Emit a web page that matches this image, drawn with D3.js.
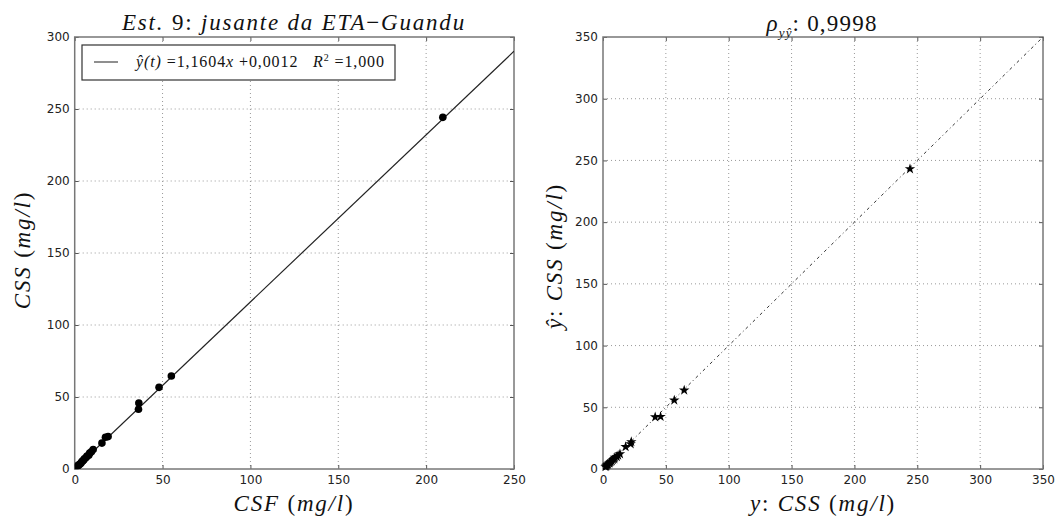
<!DOCTYPE html>
<html><head><meta charset="utf-8">
<script src="https://cdn.jsdelivr.net/npm/d3@7"></script>
<style>body{margin:0;background:#fff}svg{display:block}text{white-space:pre}</style>
</head><body>
<svg id="c" width="1056" height="520"></svg>
<script>
// Data
const csf  = [209.5, 55, 48, 36.5, 36.3, 19, 17.5, 15.5, 10.5, 9.5, 8.5, 8, 7, 6.5, 5.5, 5, 4.5, 4, 3.5, 3, 2.5, 2, 1.5];
const css  = [244.2, 64.6, 56.7, 45.8, 41.5, 22.5, 22, 18, 13.5, 12, 11, 9.5, 9, 8, 7, 6, 5.5, 5, 4, 3.5, 3, 2.5, 2];
const yhat = [243.1, 63.8, 55.7, 42.4, 42.1, 22.0, 20.3, 18.0, 12.2, 11.0, 9.9, 9.3, 8.1, 7.5, 6.4, 5.8, 5.2, 4.6, 4.1, 3.5, 2.9, 2.3, 1.7];
const fitLine = [[0, 0.0012], [250, 290.1012]];
const diagLine = [[0, 0], [350, 350]];
const leftXTicks = [0, 50, 100, 150, 200, 250];
const leftYTicks = [0, 50, 100, 150, 200, 250, 300];
const rightTicks = [0, 50, 100, 150, 200, 250, 300, 350];

const svg = d3.select("#c");
const serif = "'Liberation Serif', 'DejaVu Serif', serif";

function panel(x0, x1, y0, y1, xDom, yDom, xt, yt) {
  const x = d3.scaleLinear().domain(xDom).range([x0, x1]);
  const y = d3.scaleLinear().domain(yDom).range([y1, y0]);
  const g = svg.append("g");
  g.selectAll(".gx").data(xt.slice(1, -1)).join("line")
    .attr("x1", d => x(d)).attr("x2", d => x(d)).attr("y1", y0).attr("y2", y1)
    .attr("stroke", "#999").attr("stroke-dasharray", "1,3").attr("stroke-width", 1);
  g.selectAll(".gy").data(yt.slice(1, -1)).join("line")
    .attr("y1", d => y(d)).attr("y2", d => y(d)).attr("x1", x0).attr("x2", x1)
    .attr("stroke", "#999").attr("stroke-dasharray", "1,3").attr("stroke-width", 1);
  const ax = g.append("g").attr("transform", `translate(0,${y1})`)
    .call(d3.axisBottom(x).tickValues(xt).tickSize(-4).tickPadding(6).tickFormat(d3.format("d")));
  const ay = g.append("g").attr("transform", `translate(${x0},0)`)
    .call(d3.axisLeft(y).tickValues(yt).tickSize(-4).tickPadding(5).tickFormat(d3.format("d")));
  const axT = g.append("g").attr("transform", `translate(0,${y0})`)
    .call(d3.axisTop(x).tickValues(xt).tickSize(-4).tickFormat(""));
  const ayR = g.append("g").attr("transform", `translate(${x1},0)`)
    .call(d3.axisRight(y).tickValues(yt).tickSize(-4).tickFormat(""));
  [ax, ay, axT, ayR].forEach(a => {
    a.select(".domain").remove();
    a.selectAll("line").attr("stroke", "#555");
    a.selectAll("text").attr("fill", "#222").style("font-family", "'DejaVu Sans', sans-serif").style("font-size", "12px");
  });
  g.append("rect").attr("x", x0).attr("y", y0).attr("width", x1 - x0).attr("height", y1 - y0)
    .attr("fill", "none").attr("stroke", "#777").attr("stroke-width", 1.5);
  return {x, y, g};
}

function label(x, y, parts, size, ls, rot) {
  const t = svg.append("text")
    .attr("transform", rot ? `translate(${x},${y}) rotate(-90)` : `translate(${x},${y})`)
    .attr("text-anchor", "middle").style("font-family", serif).style("font-size", size + "px")
    .style("letter-spacing", ls + "px").attr("fill", "#111");
  parts.forEach(p => {
    const s = t.append("tspan").text(p[0]);
    if (p[1]) s.style("font-style", "italic");
    if (p[2]) s.attr("dy", p[2]);
    if (p[3]) s.style("font-size", p[3] + "px");
  });
  return t;
}

// Left panel
const L = panel(74.7, 514, 37, 469, [0, 250], [0, 300], leftXTicks, leftYTicks);
const clipL = svg.append("defs").append("clipPath").attr("id", "clipL");
clipL.append("rect").attr("x", 74.7).attr("y", 37).attr("width", 514 - 74.7).attr("height", 432);
svg.append("path").datum(fitLine).attr("clip-path", "url(#clipL)")
  .attr("d", d3.line().x(d => L.x(d[0])).y(d => L.y(d[1])))
  .attr("stroke", "#222").attr("stroke-width", 1.2).attr("fill", "none");
svg.append("g").attr("clip-path", "url(#clipL)").selectAll("circle").data(csf.map((v, i) => [v, css[i]])).join("circle")
  .attr("cx", d => L.x(d[0])).attr("cy", d => L.y(d[1])).attr("r", 3.8).attr("fill", "#000");

// Legend
const lg = svg.append("g");
lg.append("rect").attr("x", 82).attr("y", 45).attr("width", 313).attr("height", 35)
  .attr("fill", "#fff").attr("stroke", "#333").attr("stroke-width", 1.2);
lg.append("line").attr("x1", 94).attr("x2", 118).attr("y1", 62).attr("y2", 62).attr("stroke", "#444").attr("stroke-width", 1.2);
const lt = lg.append("text").attr("x", 136).attr("y", 67).style("font-family", serif).style("font-size", "16px")
  .style("letter-spacing", "0.9px").attr("fill", "#111");
lt.append("tspan").style("font-style", "italic").text("ŷ(t)");
lt.append("tspan").text(" =1,1604");
lt.append("tspan").style("font-style", "italic").text("x");
lt.append("tspan").text(" +0,0012\u00a0\u00a0\u00a0");
lt.append("tspan").style("font-style", "italic").text("R");
lt.append("tspan").attr("dy", -6).style("font-size", "10px").text("2");
lt.append("tspan").attr("dy", 6).text(" =1,000");

// Left titles
label(294, 30, [["Est.", 1], [" 9: ", 0], ["jusante da ETA", 1], ["\u2212", 0], ["Guandu", 1]], 23, 1.8);
label(294, 511, [["CSF", 1], [" (", 0], ["mg/l", 1], [")", 0]], 23, 1.8);
label(30, 250, [["CSS", 1], [" (", 0], ["mg/l", 1], [")", 0]], 23, 1.8, true);

// Right panel
const R = panel(603, 1043, 37, 469, [0, 350], [0, 350], rightTicks, rightTicks);
svg.append("path").datum(diagLine)
  .attr("d", d3.line().x(d => R.x(d[0])).y(d => R.y(d[1])))
  .attr("stroke", "#333").attr("stroke-width", 1).attr("stroke-dasharray", "3,3,1,3").attr("fill", "none");
const star = d3.symbol().type(d3.symbolStar).size(34);
svg.append("g").selectAll("path").data(css.map((v, i) => [v, yhat[i]])).join("path")
  .attr("transform", d => `translate(${R.x(d[0])},${R.y(d[1])})`).attr("d", star).attr("fill", "#000");

label(822, 31, [["ρ", 1], ["yŷ", 1, 6, 13], [": 0,9998", 0, -6]], 23, 1.2);
label(823, 511, [["y", 1], [": ", 0], ["CSS", 1], [" (", 0], ["mg/l", 1], [")", 0]], 23, 1.8);
label(562, 256, [["ŷ", 1], [": ", 0], ["CSS", 1], [" (", 0], ["mg/l", 1], [")", 0]], 23, 1.8, true);
</script>
</body></html>
